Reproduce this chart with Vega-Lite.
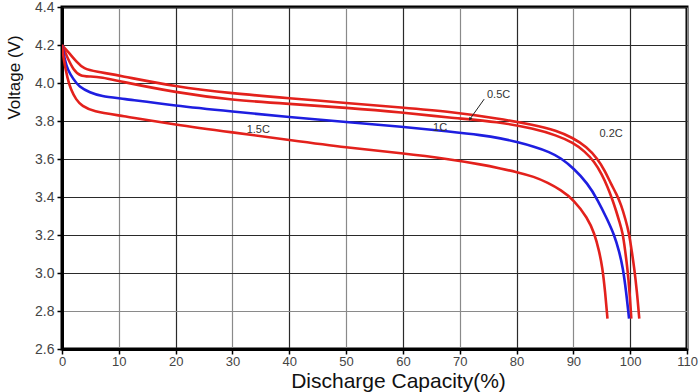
{
  "$schema": "https://vega.github.io/schema/vega-lite/v6.json",
  "autosize": "none",
  "width": 625,
  "height": 342,
  "padding": {"left": 62, "top": 7, "right": 13, "bottom": 43},
  "background": "white",
  "config": {
    "view": {"stroke": "#000", "strokeWidth": 3},
    "font": "Liberation Sans Narrow, Liberation Sans, sans-serif"
  },
  "datasets": {
    "curves": [
      {"rate": "0.2C", "cap": 0, "v": 4.2}, {"rate": "0.2C", "cap": 1.2, "v": 4.16}, {"rate": "0.2C", "cap": 2.6, "v": 4.11}, {"rate": "0.2C", "cap": 3.8, "v": 4.075}, {"rate": "0.2C", "cap": 6, "v": 4.06}, {"rate": "0.2C", "cap": 10, "v": 4.04}, {"rate": "0.2C", "cap": 20, "v": 3.98}, {"rate": "0.2C", "cap": 30, "v": 3.945}, {"rate": "0.2C", "cap": 40, "v": 3.92}, {"rate": "0.2C", "cap": 50, "v": 3.895}, {"rate": "0.2C", "cap": 60, "v": 3.87}, {"rate": "0.2C", "cap": 68, "v": 3.85}, {"rate": "0.2C", "cap": 77, "v": 3.812}, {"rate": "0.2C", "cap": 83, "v": 3.78}, {"rate": "0.2C", "cap": 87, "v": 3.75}, {"rate": "0.2C", "cap": 90, "v": 3.71}, {"rate": "0.2C", "cap": 92.3, "v": 3.665}, {"rate": "0.2C", "cap": 94.3, "v": 3.6}, {"rate": "0.2C", "cap": 95.6, "v": 3.535}, {"rate": "0.2C", "cap": 96.6, "v": 3.47}, {"rate": "0.2C", "cap": 97.6, "v": 3.415}, {"rate": "0.2C", "cap": 98.4, "v": 3.36}, {"rate": "0.2C", "cap": 99.2, "v": 3.28}, {"rate": "0.2C", "cap": 99.8, "v": 3.21}, {"rate": "0.2C", "cap": 100.3, "v": 3.11}, {"rate": "0.2C", "cap": 100.7, "v": 3.03}, {"rate": "0.2C", "cap": 101.2, "v": 2.9}, {"rate": "0.2C", "cap": 101.6, "v": 2.76},
      {"rate": "0.5C", "cap": 0, "v": 4.2}, {"rate": "0.5C", "cap": 1, "v": 4.13}, {"rate": "0.5C", "cap": 2, "v": 4.07}, {"rate": "0.5C", "cap": 3.2, "v": 4.035}, {"rate": "0.5C", "cap": 5, "v": 4.035}, {"rate": "0.5C", "cap": 7, "v": 4.03}, {"rate": "0.5C", "cap": 10, "v": 4.01}, {"rate": "0.5C", "cap": 20, "v": 3.95}, {"rate": "0.5C", "cap": 30, "v": 3.91}, {"rate": "0.5C", "cap": 40, "v": 3.89}, {"rate": "0.5C", "cap": 50, "v": 3.87}, {"rate": "0.5C", "cap": 60, "v": 3.845}, {"rate": "0.5C", "cap": 68, "v": 3.818}, {"rate": "0.5C", "cap": 77, "v": 3.795}, {"rate": "0.5C", "cap": 83, "v": 3.76}, {"rate": "0.5C", "cap": 87, "v": 3.725}, {"rate": "0.5C", "cap": 90, "v": 3.686}, {"rate": "0.5C", "cap": 92, "v": 3.64}, {"rate": "0.5C", "cap": 93.7, "v": 3.586}, {"rate": "0.5C", "cap": 95, "v": 3.52}, {"rate": "0.5C", "cap": 96, "v": 3.455}, {"rate": "0.5C", "cap": 96.9, "v": 3.384}, {"rate": "0.5C", "cap": 97.5, "v": 3.33}, {"rate": "0.5C", "cap": 98.1, "v": 3.27}, {"rate": "0.5C", "cap": 98.7, "v": 3.21}, {"rate": "0.5C", "cap": 99.1, "v": 3.12}, {"rate": "0.5C", "cap": 99.5, "v": 3.03}, {"rate": "0.5C", "cap": 99.9, "v": 2.9}, {"rate": "0.5C", "cap": 100.2, "v": 2.76},
      {"rate": "1C", "cap": 0, "v": 4.2}, {"rate": "1C", "cap": 0.5, "v": 4.12}, {"rate": "1C", "cap": 1, "v": 4.07}, {"rate": "1C", "cap": 2, "v": 4.02}, {"rate": "1C", "cap": 3, "v": 3.98}, {"rate": "1C", "cap": 4.9, "v": 3.95}, {"rate": "1C", "cap": 7, "v": 3.93}, {"rate": "1C", "cap": 10, "v": 3.92}, {"rate": "1C", "cap": 20, "v": 3.88}, {"rate": "1C", "cap": 30, "v": 3.85}, {"rate": "1C", "cap": 40, "v": 3.82}, {"rate": "1C", "cap": 50, "v": 3.795}, {"rate": "1C", "cap": 60, "v": 3.77}, {"rate": "1C", "cap": 68, "v": 3.745}, {"rate": "1C", "cap": 74, "v": 3.725}, {"rate": "1C", "cap": 77.2, "v": 3.709}, {"rate": "1C", "cap": 80, "v": 3.69}, {"rate": "1C", "cap": 83.1, "v": 3.665}, {"rate": "1C", "cap": 85.8, "v": 3.637}, {"rate": "1C", "cap": 87.8, "v": 3.605}, {"rate": "1C", "cap": 90.1, "v": 3.55}, {"rate": "1C", "cap": 92.5, "v": 3.472}, {"rate": "1C", "cap": 94.3, "v": 3.384}, {"rate": "1C", "cap": 96, "v": 3.28}, {"rate": "1C", "cap": 97.2, "v": 3.2}, {"rate": "1C", "cap": 98, "v": 3.12}, {"rate": "1C", "cap": 98.7, "v": 3.033}, {"rate": "1C", "cap": 99.3, "v": 2.9}, {"rate": "1C", "cap": 99.8, "v": 2.76},
      {"rate": "1.5C", "cap": 0, "v": 4.2}, {"rate": "1.5C", "cap": 0.3, "v": 4.12}, {"rate": "1.5C", "cap": 1, "v": 4.02}, {"rate": "1.5C", "cap": 1.5, "v": 3.97}, {"rate": "1.5C", "cap": 2.5, "v": 3.91}, {"rate": "1.5C", "cap": 3.5, "v": 3.88}, {"rate": "1.5C", "cap": 5.5, "v": 3.85}, {"rate": "1.5C", "cap": 10, "v": 3.83}, {"rate": "1.5C", "cap": 20, "v": 3.78}, {"rate": "1.5C", "cap": 30, "v": 3.74}, {"rate": "1.5C", "cap": 40, "v": 3.7}, {"rate": "1.5C", "cap": 50, "v": 3.66}, {"rate": "1.5C", "cap": 60, "v": 3.63}, {"rate": "1.5C", "cap": 68, "v": 3.6}, {"rate": "1.5C", "cap": 74, "v": 3.57}, {"rate": "1.5C", "cap": 77.2, "v": 3.55}, {"rate": "1.5C", "cap": 80, "v": 3.532}, {"rate": "1.5C", "cap": 83.1, "v": 3.507}, {"rate": "1.5C", "cap": 85.5, "v": 3.475}, {"rate": "1.5C", "cap": 87.8, "v": 3.437}, {"rate": "1.5C", "cap": 90.1, "v": 3.384}, {"rate": "1.5C", "cap": 92.5, "v": 3.29}, {"rate": "1.5C", "cap": 93.7, "v": 3.209}, {"rate": "1.5C", "cap": 94.5, "v": 3.12}, {"rate": "1.5C", "cap": 95.1, "v": 3.033}, {"rate": "1.5C", "cap": 95.6, "v": 2.9}, {"rate": "1.5C", "cap": 96, "v": 2.76}
    ],
    "labels": [
      {"label": "0.5C", "cap": 74.8, "v": 3.935},
      {"label": "0.2C", "cap": 94.6, "v": 3.73},
      {"label": "1C", "cap": 65.3, "v": 3.765},
      {"label": "1.5C", "cap": 32.5, "v": 3.755}
    ],
    "arrow": [
      {"cap": 74.3, "v": 3.915, "cap2": 71.8, "v2": 3.81}
    ]
  },
  "layer": [
    {
      "data": {"name": "curves"},
      "mark": {"type": "line", "strokeWidth": 2.6, "interpolate": "basis", "clip": true},
      "encoding": {
        "x": {
          "field": "cap", "type": "quantitative",
          "scale": {"domain": [0, 110], "nice": false, "zero": false},
          "axis": {
            "values": [0, 10, 20, 30, 40, 50, 60, 70, 80, 90, 100, 110],
            "tickCount": 20,
            "title": "Discharge Capacity(%)",
            "titleFont": "Liberation Sans Narrow, Liberation Sans, sans-serif",
            "titleFontSize": 21, "titleFontWeight": "normal", "titleColor": "#111",
            "titlePadding": 0, "titleX": 336, "titleY": 42, "titleBaseline": "bottom",
            "labelFont": "Liberation Sans Narrow, Liberation Sans, sans-serif",
            "labelFontSize": 13, "labelColor": "#444", "labelPadding": 1,
            "labelFlush": false, "labelOverlap": false,
            "domain": true, "domainColor": "#000", "domainWidth": 3,
            "ticks": true, "tickColor": "#000", "tickSize": 5, "tickWidth": 1.5,
            "grid": true,
            "gridColor": {"condition": {"test": "datum.value % 20 === 10", "value": "#8a8a8a"}, "value": "#2a2a2a"},
            "gridWidth": 1.2, "gridOpacity": 1
          }
        },
        "y": {
          "field": "v", "type": "quantitative",
          "scale": {"domain": [2.6, 4.4], "nice": false, "zero": false},
          "axis": {
            "values": [2.6, 2.8, 3.0, 3.2, 3.4, 3.6, 3.8, 4.0, 4.2, 4.4],
            "tickCount": 20,
            "format": ".1f",
            "title": "Voltage (V)",
            "titleFont": "Liberation Sans, sans-serif",
            "titleFontSize": 17, "titleFontWeight": "normal", "titleColor": "#111",
            "titleAngle": -90, "titleX": -48, "titleY": 70, "titleAlign": "center", "titleBaseline": "middle",
            "labelFont": "Liberation Sans Narrow, Liberation Sans, sans-serif",
            "labelFontSize": 14, "labelColor": "#444", "labelPadding": 3,
            "labelFlush": false, "labelOverlap": false,
            "domain": true, "domainColor": "#000", "domainWidth": 3,
            "ticks": true, "tickColor": "#000", "tickSize": 5, "tickWidth": 1.5,
            "grid": true,
            "gridColor": {"condition": {"test": "abs(datum.value - 2.8) < 0.01", "value": "#8a8a8a"}, "value": "#2a2a2a"},
            "gridWidth": 1.2, "gridOpacity": 1
          }
        },
        "detail": {"field": "rate", "type": "nominal"},
        "color": {
          "field": "rate", "type": "nominal",
          "scale": {"domain": ["0.2C", "0.5C", "1C", "1.5C"], "range": ["#e3211c", "#e3211c", "#1e1ee0", "#e3211c"]},
          "legend": null
        }
      }
    },
    {
      "data": {"name": "arrow"},
      "mark": {"type": "rule", "color": "#222", "strokeWidth": 1},
      "encoding": {
        "x": {"field": "cap", "type": "quantitative"},
        "y": {"field": "v", "type": "quantitative"},
        "x2": {"field": "cap2"},
        "y2": {"field": "v2"}
      }
    },
    {
      "data": {"name": "arrow"},
      "mark": {"type": "point", "shape": "triangle-down", "filled": true, "color": "#222", "size": 14, "angle": 35, "opacity": 1},
      "encoding": {
        "x": {"field": "cap2", "type": "quantitative"},
        "y": {"field": "v2", "type": "quantitative"}
      }
    },
    {
      "data": {"name": "labels"},
      "mark": {"type": "text", "align": "left", "baseline": "middle", "fontSize": 11, "color": "#333", "font": "Liberation Sans, sans-serif"},
      "encoding": {
        "x": {"field": "cap", "type": "quantitative"},
        "y": {"field": "v", "type": "quantitative"},
        "text": {"field": "label"}
      }
    }
  ]
}
